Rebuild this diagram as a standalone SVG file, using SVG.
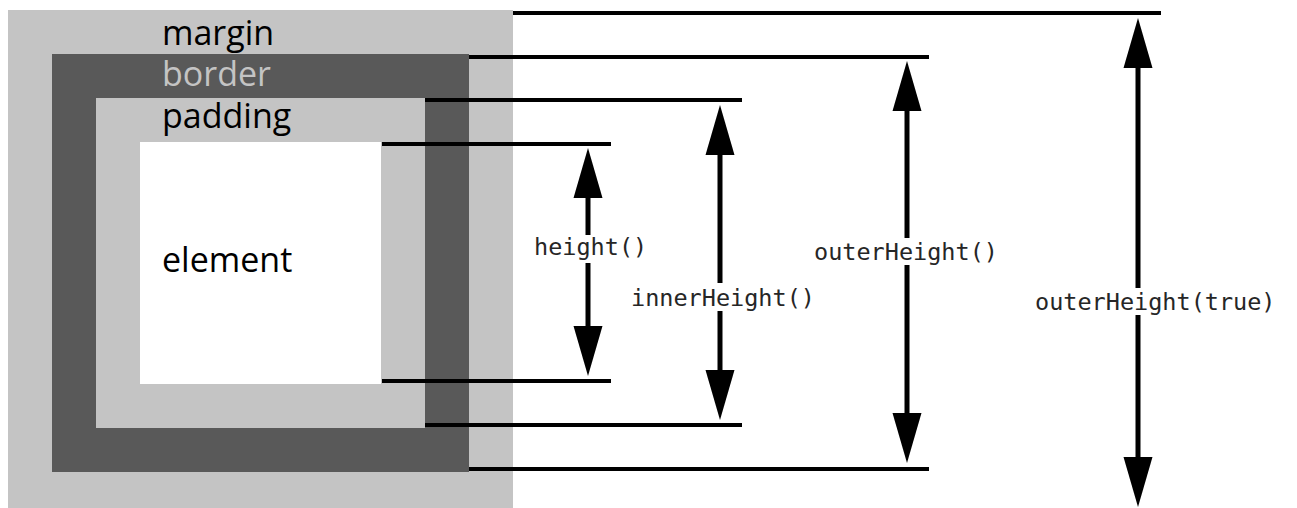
<svg xmlns="http://www.w3.org/2000/svg" width="1297" height="508" viewBox="0 0 1297 508">
<style>
.box{font-family:"Open Sans","Noto Sans",sans-serif;font-size:34px;fill:#000}
.mono{font-family:"DejaVu Sans Mono","Liberation Mono",monospace;font-size:23.5px;fill:#262626}
.ext{stroke:#000;stroke-width:4;fill:none}
.shaft{stroke:#000;stroke-width:5;fill:none}
.head{fill:#000}
</style>
<rect width="1297" height="508" fill="#fff"/>
<g id="margin">
<rect x="8" y="10" width="505" height="498" fill="#c4c4c4"/>
<text class="box" x="162" y="45">margin</text>
</g>
<g id="border">
<rect x="52" y="54" width="417" height="418" fill="#595959"/>
<text class="box" x="162" y="86" style="fill:#c4c4c4">border</text>
</g>
<g id="padding">
<rect x="96" y="98" width="329" height="330" fill="#c4c4c4"/>
<text class="box" x="162" y="128">padding</text>
</g>
<g id="element">
<rect x="140" y="142" width="241" height="242" fill="#fff"/>
<text class="box" x="162" y="272">element</text>
</g>
<g id="connectors">
<line class="ext" x1="513" y1="13" x2="1161" y2="13"/>
<line class="ext" x1="469" y1="57" x2="929" y2="57"/>
<line class="ext" x1="425" y1="100" x2="742" y2="100"/>
<line class="ext" x1="382" y1="144" x2="611" y2="144"/>
<line class="ext" x1="382" y1="381" x2="611" y2="381"/>
<line class="ext" x1="425" y1="425" x2="742" y2="425"/>
<line class="ext" x1="469" y1="469" x2="929" y2="469"/>
<g id="arrow-height">
<polygon class="head" points="588,148 573.5,198 602.5,198"/>
<line class="shaft" x1="588" y1="197" x2="588" y2="235"/>
<line class="shaft" x1="588" y1="263" x2="588" y2="327"/>
<polygon class="head" points="573.5,326 602.5,326 588,376"/>
</g>
<g id="arrow-inner">
<polygon class="head" points="720,105 705.5,155 734.5,155"/>
<line class="shaft" x1="720" y1="154" x2="720" y2="283"/>
<line class="shaft" x1="720" y1="311" x2="720" y2="371"/>
<polygon class="head" points="705.5,370 734.5,370 720,420"/>
</g>
<g id="arrow-outer">
<polygon class="head" points="907,61 892.5,111 921.5,111"/>
<line class="shaft" x1="907" y1="110" x2="907" y2="238"/>
<line class="shaft" x1="907" y1="265" x2="907" y2="414"/>
<polygon class="head" points="892.5,413 921.5,413 907,463"/>
</g>
<g id="arrow-outer-true">
<polygon class="head" points="1138,18 1123.5,68 1152.5,68"/>
<line class="shaft" x1="1138" y1="67" x2="1138" y2="288"/>
<line class="shaft" x1="1138" y1="315" x2="1138" y2="458"/>
<polygon class="head" points="1123.5,457 1152.5,457 1138,507"/>
</g>
</g>
<g id="labels">
<text class="mono" x="534" y="255">height()</text>
<text class="mono" x="631" y="306">innerHeight()</text>
<text class="mono" x="814" y="260">outerHeight()</text>
<text class="mono" x="1035" y="310">outerHeight(true)</text>
</g>
</svg>
